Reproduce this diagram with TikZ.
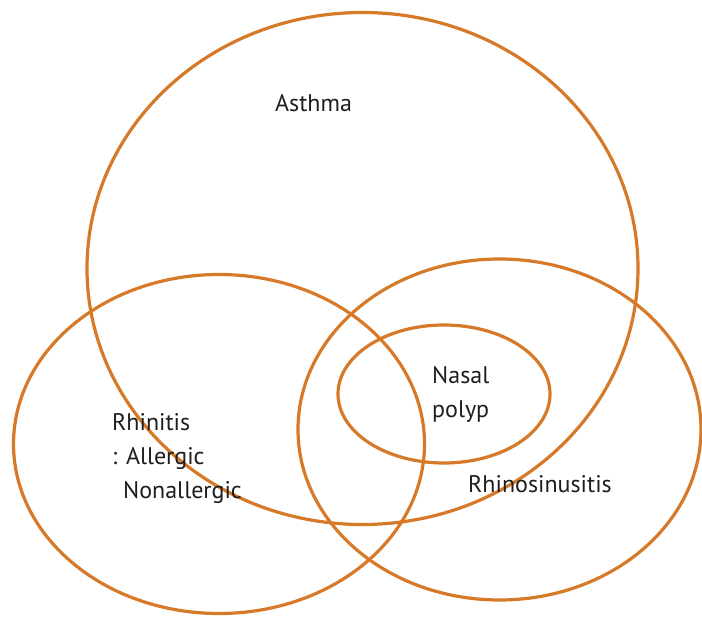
\documentclass[tikz,border=0pt]{standalone}
\usepackage{fontspec}
\setmainfont{PT Sans}
\usetikzlibrary{shapes.geometric}
\definecolor{vennorange}{RGB}{214,122,42}
\definecolor{txt}{RGB}{30,30,30}
\begin{document}
\begin{tikzpicture}[x=1pt,y=-1pt,
  set/.style={ellipse,draw=vennorange,line width=3.2pt,inner sep=0pt},
  lbl/.style={text=txt,font=\fontsize{24}{34}\selectfont,inner sep=0pt,align=left}]
\useasboundingbox (0,0) rectangle (702,617);
\node[set,minimum width=551pt,minimum height=512pt] (asthma) at (362.5,268.5) {};
\node[set,minimum width=411pt,minimum height=339pt] (rhinitis) at (219,444) {};
\node[set,minimum width=403pt,minimum height=341pt] (sinus) at (499.5,429.5) {};
\node[set,minimum width=212pt,minimum height=138pt] (polyp) at (444,394) {};
\node[lbl,anchor=west] (tasthma) at (275,103) {Asthma};
\node[lbl,anchor=north west] (tpolyp) at (432,366) {Nasal\\polyp};
\node[lbl,anchor=north west] (trhin) at (112,413) {Rhinitis\\: Allergic\\\hspace*{11pt}Nonallergic};
\node[lbl,anchor=west] (tsinus) at (468,484) {Rhinosinusitis};
\end{tikzpicture}
\end{document}
